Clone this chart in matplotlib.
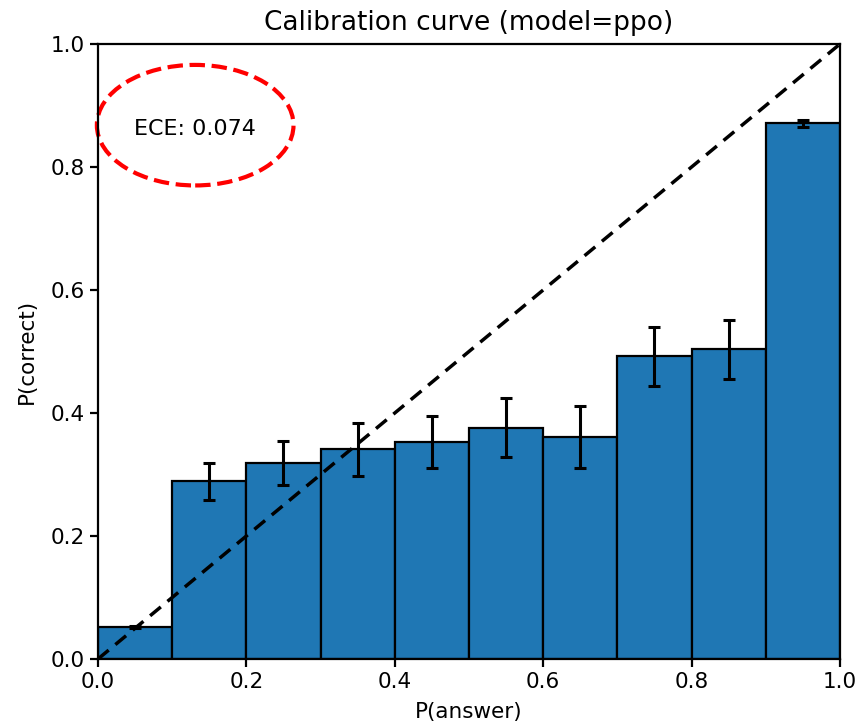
import numpy as np
import matplotlib
matplotlib.use("Agg")
import matplotlib.pyplot as plt
from matplotlib.patches import Ellipse

# calibration bins
bin_left = [0.0, 0.1, 0.2, 0.3, 0.4, 0.5, 0.6, 0.7, 0.8, 0.9]
acc = [0.052, 0.289, 0.319, 0.341, 0.353, 0.376, 0.361, 0.492, 0.504, 0.871]
err = [0.002, 0.030, 0.036, 0.043, 0.042, 0.048, 0.050, 0.048, 0.048, 0.006]
ece = 0.074

plt.rcParams['font.size'] = 15.5

fig = plt.figure(figsize=(8.61, 7.26), dpi=100)
ax = fig.add_axes([0.1138, 0.0923, 0.8618, 0.8471])

centers = np.array(bin_left) + 0.05
ax.bar(bin_left, acc, width=0.1, align='edge', color='#1f77b4',
       edgecolor='black', linewidth=1.6)
ax.errorbar(centers, acc, yerr=err, fmt='none', ecolor='black',
            elinewidth=2.2, capsize=4, capthick=2.2)
ax.plot([0, 1], [0, 1], 'k--', linewidth=2.5, dashes=(4, 2.5))

ax.text(0.13, 0.862, f"ECE: {ece:.3f}", ha='center', va='center', fontsize=16)
ax.add_patch(Ellipse((0.131, 0.868), 0.265, 0.196, fill=False,
                     edgecolor='red', linestyle='--', linewidth=3, clip_on=False))

ax.set_xlim(0, 1)
ax.set_ylim(0, 1)
ax.set_xlabel('P(answer)', labelpad=7)
ax.set_ylabel('P(correct)', labelpad=10)
ax.set_title('Calibration curve (model=ppo)', fontsize=19, pad=10)
for s in ax.spines.values():
    s.set_linewidth(1.6)
ax.tick_params(width=1.6, length=6)

fig.savefig('out.png', dpi=100)
